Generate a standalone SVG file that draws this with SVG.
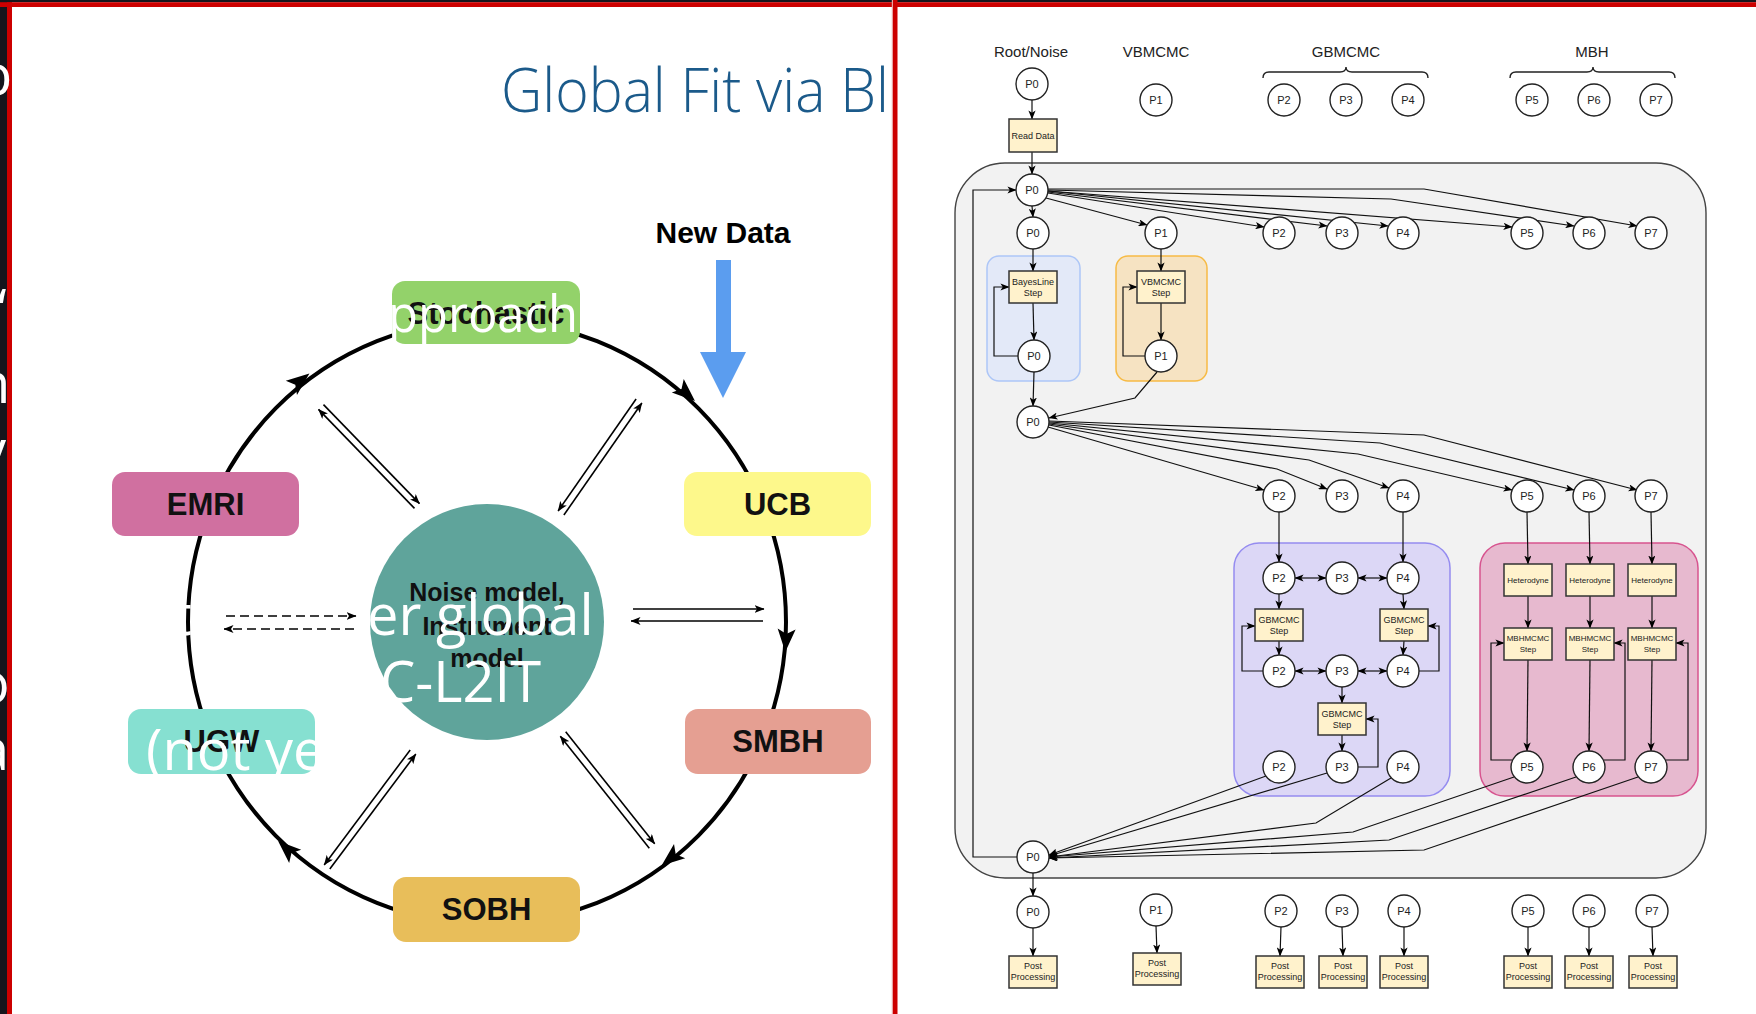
<svg xmlns="http://www.w3.org/2000/svg" width="1756" height="1014" viewBox="0 0 1756 1014">
<defs>
<style>
.lbl{font-family:'Liberation Sans',Arial,sans-serif;font-weight:bold;fill:#111;text-anchor:middle;font-size:31px}
.mid{font-size:25px}
.ring{fill:none;stroke:#000;stroke-width:4}
.sp{stroke:#000;stroke-width:1.6;fill:none;marker-end:url(#sh)}
.dash{stroke-dasharray:9 5}
.ov{font-family:'Open Sans',sans-serif;font-size:56px;fill:#fff}
.hdr{font-family:'Liberation Sans',Arial,sans-serif;font-size:15px;fill:#222;text-anchor:middle}
.pn circle{fill:#fff;stroke:#222;stroke-width:1.4}
.pn text{font-family:'Liberation Sans',Arial,sans-serif;font-size:11px;fill:#222;text-anchor:middle}
.bx rect{fill:#fff2cc;stroke:#333;stroke-width:1.5}
.bx text{font-family:'Liberation Sans',Arial,sans-serif;font-size:9px;fill:#222;text-anchor:middle}
.bx .s8{font-size:8px}
.cn{fill:none;stroke:#111;stroke-width:1.2;marker-end:url(#ah)}
.dbl{marker-start:url(#ahs)}
.brace{fill:none;stroke:#222;stroke-width:1.4}
</style>
<marker id="ah" viewBox="0 0 10 8" refX="9.5" refY="4" markerWidth="9" markerHeight="7.2" orient="auto" markerUnits="userSpaceOnUse"><path d="M0,0 L10,4 L0,8 L2.5,4 Z" fill="#000"/></marker>
<marker id="ahs" viewBox="0 0 10 8" refX="9.5" refY="4" markerWidth="9" markerHeight="7.2" orient="auto-start-reverse" markerUnits="userSpaceOnUse"><path d="M0,0 L10,4 L0,8 L2.5,4 Z" fill="#000"/></marker>
<marker id="sh" viewBox="0 0 10 8" refX="9.5" refY="4" markerWidth="10" markerHeight="8" orient="auto" markerUnits="userSpaceOnUse"><path d="M0,0 L10,4 L0,8 L2.5,4 Z" fill="#000"/></marker>
<path id="ringHead" d="M12,0 L-11,-9 L-6,0 L-11,9 Z" fill="#000"/>
<clipPath id="leftClip"><rect x="0" y="0" width="893" height="1014"/></clipPath>
</defs>

<!-- page frame -->
<g id="frame">
<rect x="0" y="0" width="1756" height="1014" fill="#fff"/>
<rect x="0" y="0" width="7" height="1014" fill="#15151c"/>
<rect x="7" y="0" width="5" height="1014" fill="#cc0000"/>
<rect x="0" y="0" width="1756" height="2.2" fill="#15151c"/>
<rect x="0" y="2.2" width="1756" height="4.8" fill="#cc0000"/>
<rect x="891.8" y="0" width="1.2" height="1014" fill="#e9a3a3"/>
<rect x="893" y="0" width="4.5" height="1014" fill="#cc0000"/>
</g>

<!-- ===== left: global fit cycle ===== -->
<g id="title" clip-path="url(#leftClip)">
<text x="501" y="112" font-family="'Open Sans',sans-serif" font-weight="300" font-size="60" fill="#1b5a8a" textLength="388" lengthAdjust="spacingAndGlyphs">Global Fit via Bl</text>
</g>

<g id="new-data">
<text x="723" y="243" font-family="'Liberation Sans',Arial,sans-serif" font-weight="bold" font-size="30" fill="#000" text-anchor="middle">New Data</text>
<polygon points="716,260 731,260 731,352 746,352 723,398 700,352 716,352" fill="#5b9def"/>
</g>

<g id="cycle-connectors">
<ellipse class="ring" cx="487" cy="622" rx="299" ry="302"/>
<use href="#ringHead" transform="translate(300,381) rotate(-38.4)"/>
<use href="#ringHead" transform="translate(686,393) rotate(41.6)"/>
<use href="#ringHead" transform="translate(786,640) rotate(93.4)"/>
<use href="#ringHead" transform="translate(671,858) rotate(141.5)"/>
<use href="#ringHead" transform="translate(287,849) rotate(-138)"/>
<!-- exchange arrows between the noise model and each source -->
<line class="sp" x1="414.5" y1="508.4" x2="318.5" y2="409.4"/>
<line class="sp" x1="323.5" y1="404.6" x2="419.5" y2="503.6"/>
<line class="sp" x1="563.9" y1="515" x2="641.9" y2="403"/>
<line class="sp" x1="636.1" y1="399" x2="558.1" y2="511"/>
<line class="sp dash" x1="226" y1="616" x2="356" y2="616"/>
<line class="sp dash" x1="354" y1="629" x2="224" y2="629"/>
<line class="sp" x1="633" y1="609" x2="764" y2="609"/>
<line class="sp" x1="763" y1="621" x2="631" y2="621"/>
<line class="sp" x1="329.8" y1="869.1" x2="415.8" y2="754.1"/>
<line class="sp" x1="410.2" y1="749.9" x2="324.2" y2="864.9"/>
<line class="sp" x1="565.7" y1="731.8" x2="654.7" y2="843.8"/>
<line class="sp" x1="649.3" y1="848.2" x2="560.3" y2="736.2"/>
</g>

<g id="node-stochastic"><rect x="392" y="281" width="188" height="63" rx="13" fill="#93d26a"/><text class="lbl" x="486" y="324">Stochastic</text></g>
<g id="node-emri"><rect x="112" y="472" width="187" height="64" rx="13" fill="#d070a0"/><text class="lbl" x="205.5" y="515">EMRI</text></g>
<g id="node-ucb"><rect x="684" y="472" width="187" height="64" rx="13" fill="#fdf88b"/><text class="lbl" x="777.5" y="515">UCB</text></g>
<g id="node-smbh"><rect x="685" y="709" width="186" height="65" rx="13" fill="#e59f92"/><text class="lbl" x="778" y="752">SMBH</text></g>
<g id="node-ugw"><rect x="128" y="709" width="187" height="65" rx="13" fill="#86e0d1"/><text class="lbl" x="221.5" y="752">UGW</text></g>
<g id="node-sobh"><rect x="393" y="877" width="187" height="65" rx="13" fill="#e8be5a"/><text class="lbl" x="486.5" y="920">SOBH</text></g>
<g id="node-noise"><ellipse cx="487" cy="622" rx="117" ry="118" fill="#5fa49b"/>
<text class="lbl mid" x="487" y="601">Noise model,</text><text class="lbl mid" x="487" y="635">Instrument</text><text class="lbl mid" x="487" y="667">model</text></g>

<!-- white slide text lying over the figure -->
<g id="overlay" class="ov" clip-path="url(#leftClip)">
<text x="-22" y="95">b</text>
<text x="-3" y="330">‘</text>
<text x="388" y="332" font-size="52" textLength="190" lengthAdjust="spacingAndGlyphs">pproach</text>
<text x="-24" y="403">n</text>
<text x="-22" y="470">y</text>
<text x="172" y="635">t</text>
<text x="367" y="635">er global</text>
<text x="-24" y="703">o</text>
<text x="380" y="702">C-L2IT</text>
<text x="-22" y="770">a</text>
<text x="146" y="770">(not ye</text>
</g>

<!-- ===== right: process graph ===== -->
<g id="headers">
<text class="hdr" x="1031" y="57">Root/Noise</text>
<text class="hdr" x="1156" y="57">VBMCMC</text>
<text class="hdr" x="1346" y="57">GBMCMC</text>
<text class="hdr" x="1592" y="57">MBH</text>
<path class="brace" d="M1263,78 Q1263,72 1269,72 L1340,72 Q1346,72 1346,67 Q1346,72 1352,72 L1422,72 Q1428,72 1428,78"/>
<path class="brace" d="M1510,78 Q1510,72 1516,72 L1587,72 Q1593,72 1593,67 Q1593,72 1599,72 L1669,72 Q1675,72 1675,78"/>
</g>

<g id="loop-container"><rect x="955" y="163" width="751" height="715" rx="50" fill="#f2f2f2" stroke="#444" stroke-width="1.4"/></g>
<g id="bayesline-group"><rect x="987" y="256" width="93" height="125" rx="12" fill="#e3e9f8" stroke="#adc6f7" stroke-width="1.5"/></g>
<g id="vbmcmc-group"><rect x="1116" y="256" width="91" height="125" rx="12" fill="#f6e3c2" stroke="#f7bb45" stroke-width="1.5"/></g>
<g id="gbmcmc-group"><rect x="1234" y="543" width="216" height="253" rx="25" fill="#dcd7f6" stroke="#958cf0" stroke-width="1.5"/></g>
<g id="mbh-group"><rect x="1480" y="543" width="218" height="253" rx="25" fill="#e7b9cf" stroke="#d7548f" stroke-width="1.5"/></g>

<g id="connectors">
<path class="cn" d="M1032,100 L1032,119"/>
<path class="cn" d="M1032,152 L1032,174"/>
<path class="cn" d="M1017,857 L973,857 L973,190 L1016,190"/>
<path class="cn" d="M1032,206 L1033,217"/>
<path class="cn" d="M1046,198 L1147,225"/>
<path class="cn" d="M1048,193 L1264,227"/>
<path class="cn" d="M1048,192 L1327,226"/>
<path class="cn" d="M1048,191 L1388,226"/>
<path class="cn" d="M1048,191 L1512,227"/>
<path class="cn" d="M1048,190 L1391,199 L1574,226"/>
<path class="cn" d="M1048,189 L1424,189 L1637,226"/>
<path class="cn" d="M1033,249 L1033,271"/>
<path class="cn" d="M1033,303 L1034,340"/>
<path class="cn" d="M1018,356 L994,356 L994,287 L1009,287"/>
<path class="cn" d="M1161,249 L1161,271"/>
<path class="cn" d="M1161,303 L1161,340"/>
<path class="cn" d="M1145,356 L1123,356 L1123,287 L1137,287"/>
<path class="cn" d="M1034,372 L1033,406"/>
<path class="cn" d="M1157,372 L1135,398 L1049,418"/>
<path class="cn" d="M1048,427 L1264,490"/>
<path class="cn" d="M1049,425 L1277,469 L1327,489"/>
<path class="cn" d="M1049,424 L1309,460 L1389,488"/>
<path class="cn" d="M1049,423 L1358,454 L1512,490"/>
<path class="cn" d="M1049,422 L1380,443 L1574,490"/>
<path class="cn" d="M1049,421 L1424,435 L1637,490"/>
<path class="cn" d="M1279,512 L1279,562"/>
<path class="cn" d="M1403,512 L1403,562"/>
<path class="cn dbl" d="M1295,578 L1326,578"/>
<path class="cn dbl" d="M1358,578 L1387,578"/>
<path class="cn" d="M1279,594 L1279,609"/>
<path class="cn" d="M1279,641 L1279,655"/>
<path class="cn" d="M1403,594 L1404,609"/>
<path class="cn" d="M1404,641 L1403,655"/>
<path class="cn dbl" d="M1295,671 L1326,671"/>
<path class="cn dbl" d="M1358,671 L1387,671"/>
<path class="cn" d="M1263,671 L1242,671 L1242,626 L1255,626"/>
<path class="cn" d="M1419,671 L1439,671 L1439,626 L1428,626"/>
<path class="cn" d="M1342,687 L1342,703"/>
<path class="cn" d="M1342,735 L1342,751"/>
<path class="cn" d="M1358,767 L1378,767 L1378,719 L1366,719"/>
<path class="cn" d="M1527,512 L1528,564"/>
<path class="cn" d="M1589,512 L1590,564"/>
<path class="cn" d="M1651,512 L1652,564"/>
<path class="cn" d="M1528,596 L1528,628"/>
<path class="cn" d="M1590,596 L1590,628"/>
<path class="cn" d="M1652,596 L1652,628"/>
<path class="cn" d="M1528,660 L1527,751"/>
<path class="cn" d="M1590,660 L1589,751"/>
<path class="cn" d="M1652,660 L1651,751"/>
<path class="cn" d="M1512,760 L1491,760 L1491,643 L1504,643"/>
<path class="cn" d="M1604,760 L1625,760 L1625,643 L1614,643"/>
<path class="cn" d="M1666,760 L1688,760 L1688,643 L1676,643"/>
<path class="cn" d="M1266,776 L1049,855"/>
<path class="cn" d="M1327,773 L1049,856"/>
<path class="cn" d="M1391,778 L1316,823 L1049,857"/>
<path class="cn" d="M1514,777 L1353,832 L1049,857"/>
<path class="cn" d="M1576,777 L1389,840 L1049,858"/>
<path class="cn" d="M1638,777 L1424,850 L1049,858"/>
<path class="cn" d="M1033,873 L1033,896"/>
<path class="cn" d="M1033,928 L1033,956"/>
<path class="cn" d="M1156,926 L1157,953"/>
<path class="cn" d="M1281,927 L1280,956"/>
<path class="cn" d="M1342,927 L1343,956"/>
<path class="cn" d="M1404,927 L1404,956"/>
<path class="cn" d="M1528,927 L1528,956"/>
<path class="cn" d="M1589,927 L1589,956"/>
<path class="cn" d="M1652,927 L1653,956"/>
</g>

<!-- process nodes -->
<g class="pn">
<g id="top-p0"><circle cx="1032" cy="84" r="16"/><text x="1032" y="88">P0</text></g>
<g id="top-p1"><circle cx="1156" cy="100" r="16"/><text x="1156" y="104">P1</text></g>
<g id="top-p2"><circle cx="1284" cy="100" r="16"/><text x="1284" y="104">P2</text></g>
<g id="top-p3"><circle cx="1346" cy="100" r="16"/><text x="1346" y="104">P3</text></g>
<g id="top-p4"><circle cx="1408" cy="100" r="16"/><text x="1408" y="104">P4</text></g>
<g id="top-p5"><circle cx="1532" cy="100" r="16"/><text x="1532" y="104">P5</text></g>
<g id="top-p6"><circle cx="1594" cy="100" r="16"/><text x="1594" y="104">P6</text></g>
<g id="top-p7"><circle cx="1656" cy="100" r="16"/><text x="1656" y="104">P7</text></g>

<g id="loop-p0"><circle cx="1032" cy="190" r="16"/><text x="1032" y="194">P0</text></g>

<g id="split-p0"><circle cx="1033" cy="233" r="16"/><text x="1033" y="237">P0</text></g>
<g id="split-p1"><circle cx="1161" cy="233" r="16"/><text x="1161" y="237">P1</text></g>
<g id="split-p2"><circle cx="1279" cy="233" r="16"/><text x="1279" y="237">P2</text></g>
<g id="split-p3"><circle cx="1342" cy="233" r="16"/><text x="1342" y="237">P3</text></g>
<g id="split-p4"><circle cx="1403" cy="233" r="16"/><text x="1403" y="237">P4</text></g>
<g id="split-p5"><circle cx="1527" cy="233" r="16"/><text x="1527" y="237">P5</text></g>
<g id="split-p6"><circle cx="1589" cy="233" r="16"/><text x="1589" y="237">P6</text></g>
<g id="split-p7"><circle cx="1651" cy="233" r="16"/><text x="1651" y="237">P7</text></g>

<g id="bl-p0"><circle cx="1034" cy="356" r="16"/><text x="1034" y="360">P0</text></g>
<g id="vb-p1"><circle cx="1161" cy="356" r="16"/><text x="1161" y="360">P1</text></g>
<g id="noise-p0"><circle cx="1033" cy="422" r="16"/><text x="1033" y="426">P0</text></g>

<g id="src-p2"><circle cx="1279" cy="496" r="16"/><text x="1279" y="500">P2</text></g>
<g id="src-p3"><circle cx="1342" cy="496" r="16"/><text x="1342" y="500">P3</text></g>
<g id="src-p4"><circle cx="1403" cy="496" r="16"/><text x="1403" y="500">P4</text></g>
<g id="src-p5"><circle cx="1527" cy="496" r="16"/><text x="1527" y="500">P5</text></g>
<g id="src-p6"><circle cx="1589" cy="496" r="16"/><text x="1589" y="500">P6</text></g>
<g id="src-p7"><circle cx="1651" cy="496" r="16"/><text x="1651" y="500">P7</text></g>

<g id="gb-a-p2"><circle cx="1279" cy="578" r="16"/><text x="1279" y="582">P2</text></g>
<g id="gb-a-p3"><circle cx="1342" cy="578" r="16"/><text x="1342" y="582">P3</text></g>
<g id="gb-a-p4"><circle cx="1403" cy="578" r="16"/><text x="1403" y="582">P4</text></g>
<g id="gb-b-p2"><circle cx="1279" cy="671" r="16"/><text x="1279" y="675">P2</text></g>
<g id="gb-b-p3"><circle cx="1342" cy="671" r="16"/><text x="1342" y="675">P3</text></g>
<g id="gb-b-p4"><circle cx="1403" cy="671" r="16"/><text x="1403" y="675">P4</text></g>
<g id="gb-c-p2"><circle cx="1279" cy="767" r="16"/><text x="1279" y="771">P2</text></g>
<g id="gb-c-p3"><circle cx="1342" cy="767" r="16"/><text x="1342" y="771">P3</text></g>
<g id="gb-c-p4"><circle cx="1403" cy="767" r="16"/><text x="1403" y="771">P4</text></g>

<g id="mbh-p5"><circle cx="1527" cy="767" r="16"/><text x="1527" y="771">P5</text></g>
<g id="mbh-p6"><circle cx="1589" cy="767" r="16"/><text x="1589" y="771">P6</text></g>
<g id="mbh-p7"><circle cx="1651" cy="767" r="16"/><text x="1651" y="771">P7</text></g>

<g id="gather-p0"><circle cx="1033" cy="857" r="16"/><text x="1033" y="861">P0</text></g>

<g id="end-p0"><circle cx="1033" cy="912" r="16"/><text x="1033" y="916">P0</text></g>
<g id="end-p1"><circle cx="1156" cy="910" r="16"/><text x="1156" y="914">P1</text></g>
<g id="end-p2"><circle cx="1281" cy="911" r="16"/><text x="1281" y="915">P2</text></g>
<g id="end-p3"><circle cx="1342" cy="911" r="16"/><text x="1342" y="915">P3</text></g>
<g id="end-p4"><circle cx="1404" cy="911" r="16"/><text x="1404" y="915">P4</text></g>
<g id="end-p5"><circle cx="1528" cy="911" r="16"/><text x="1528" y="915">P5</text></g>
<g id="end-p6"><circle cx="1589" cy="911" r="16"/><text x="1589" y="915">P6</text></g>
<g id="end-p7"><circle cx="1652" cy="911" r="16"/><text x="1652" y="915">P7</text></g>
</g>

<!-- step boxes -->
<g class="bx">
<g id="read-data"><rect x="1009" y="119" width="48" height="33"/><text x="1033" y="139" font-size="8.5">Read Data</text></g>
<g id="bayesline-step"><rect x="1009" y="271" width="48" height="32"/><text x="1033" y="285">BayesLine</text><text x="1033" y="296">Step</text></g>
<g id="vbmcmc-step"><rect x="1137" y="271" width="48" height="32"/><text x="1161" y="285">VBMCMC</text><text x="1161" y="296">Step</text></g>
<g id="gbmcmc-step-l"><rect x="1255" y="609" width="48" height="32"/><text x="1279" y="623">GBMCMC</text><text x="1279" y="634">Step</text></g>
<g id="gbmcmc-step-r"><rect x="1380" y="609" width="48" height="32"/><text x="1404" y="623">GBMCMC</text><text x="1404" y="634">Step</text></g>
<g id="gbmcmc-step-m"><rect x="1318" y="703" width="48" height="32"/><text x="1342" y="717">GBMCMC</text><text x="1342" y="728">Step</text></g>
<g id="het-5"><rect x="1504" y="564" width="48" height="32"/><text class="s8" x="1528" y="583">Heterodyne</text></g>
<g id="het-6"><rect x="1566" y="564" width="48" height="32"/><text class="s8" x="1590" y="583">Heterodyne</text></g>
<g id="het-7"><rect x="1628" y="564" width="48" height="32"/><text class="s8" x="1652" y="583">Heterodyne</text></g>
<g id="mbh-step-5"><rect x="1504" y="628" width="48" height="32"/><text class="s8" x="1528" y="641">MBHMCMC</text><text class="s8" x="1528" y="652">Step</text></g>
<g id="mbh-step-6"><rect x="1566" y="628" width="48" height="32"/><text class="s8" x="1590" y="641">MBHMCMC</text><text class="s8" x="1590" y="652">Step</text></g>
<g id="mbh-step-7"><rect x="1628" y="628" width="48" height="32"/><text class="s8" x="1652" y="641">MBHMCMC</text><text class="s8" x="1652" y="652">Step</text></g>
<g id="post-p0"><rect x="1009" y="956" width="48" height="32"/><text x="1033" y="969">Post</text><text x="1033" y="980">Processing</text></g>
<g id="post-p1"><rect x="1133" y="953" width="48" height="32"/><text x="1157" y="966">Post</text><text x="1157" y="977">Processing</text></g>
<g id="post-p2"><rect x="1256" y="956" width="48" height="32"/><text x="1280" y="969">Post</text><text x="1280" y="980">Processing</text></g>
<g id="post-p3"><rect x="1319" y="956" width="48" height="32"/><text x="1343" y="969">Post</text><text x="1343" y="980">Processing</text></g>
<g id="post-p4"><rect x="1380" y="956" width="48" height="32"/><text x="1404" y="969">Post</text><text x="1404" y="980">Processing</text></g>
<g id="post-p5"><rect x="1504" y="956" width="48" height="32"/><text x="1528" y="969">Post</text><text x="1528" y="980">Processing</text></g>
<g id="post-p6"><rect x="1565" y="956" width="48" height="32"/><text x="1589" y="969">Post</text><text x="1589" y="980">Processing</text></g>
<g id="post-p7"><rect x="1629" y="956" width="48" height="32"/><text x="1653" y="969">Post</text><text x="1653" y="980">Processing</text></g>
</g>
</svg>
